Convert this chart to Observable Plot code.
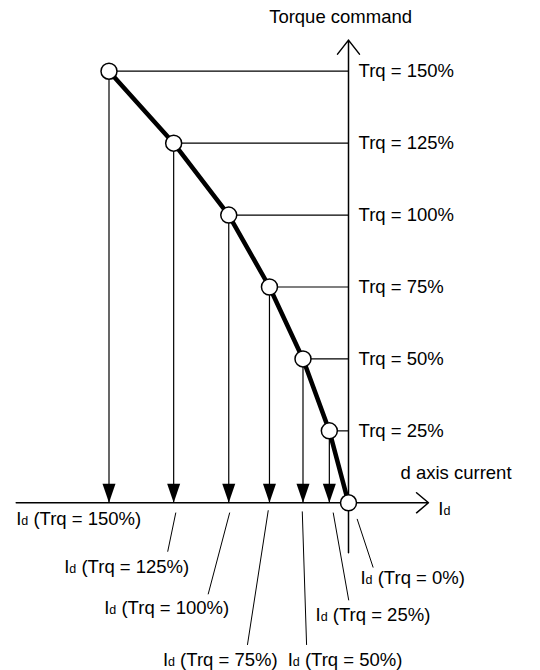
<!DOCTYPE html>
<html>
<head>
<meta charset="utf-8">
<script src="https://cdn.jsdelivr.net/npm/d3@7"></script>
<script src="https://cdn.jsdelivr.net/npm/@observablehq/plot@0.6"></script>
<style>
  html, body { margin: 0; padding: 0; background: white; }
</style>
</head>
<body>
<div id="chart"></div>
<script>
// ---- data ----
const torque = [0, 25, 50, 75, 100, 125, 150];          // torque command, %
const idCurrent = [0, -8, -19, -33, -50, -73, -100];     // d axis current (relative units)
const trqLabels = ["Trq = 0%", "Trq = 25%", "Trq = 50%", "Trq = 75%", "Trq = 100%", "Trq = 125%", "Trq = 150%"];
const idLabels = ["Id (Trq = 0%)", "Id (Trq = 25%)", "Id (Trq = 50%)", "Id (Trq = 75%)", "Id (Trq = 100%)", "Id (Trq = 125%)", "Id (Trq = 150%)"];

// annotation layout in data units (Id, torque)
const idLabelX = [5, -13.75, -25.4, -77.5, -102, -118.7, -138.75];
const idLabelY = [-26.1, -39, -54.6, -54.6, -36.5, -22.3, -5.6];
const leaderX1 = [3.6, -6.4, -19.3, -33.5, -49.6, -72.1, null];
const leaderY1 = [-5.6, -3.4, -3.0, -2.6, -3.4, -3.4, null];
const leaderX2 = [10.3, 0.1, -17.5, -42.2, -58.6, -75.5, null];
const leaderY2 = [-22.5, -33.9, -49.4, -49.4, -31.8, -17.0, null];

const points = torque.map((t, i) => ({
  trq: t, id: idCurrent[i], trqLabel: trqLabels[i], idLabel: idLabels[i],
  lx: idLabelX[i], ly: idLabelY[i],
  x1: leaderX1[i], y1: leaderY1[i], x2: leaderX2[i], y2: leaderY2[i]
}));
const nonZero = points.filter(d => d.trq > 0);
const leaders = points.filter(d => d.x1 != null);

// axis extents (data units)
const xAxisArrow = [{x1: -138.75, x2: 33.4, y1: 0, y2: 0}];
const yAxisArrow = [{x1: 0, x2: 0, y1: -17.4, y2: 160.8}];
const centerTitles = [{text: "Torque command", x: -3.3, y: 168.8}];
const startTitles = [
  {text: "d axis current", x: 21.7, y: 10.4},
  {text: "Id", x: 37.5, y: -2.1}
];

// filled arrowhead, tip at the anchor point, pointing down
const downArrowHead = {
  draw(context) {
    context.moveTo(0, 0);
    context.lineTo(-6.5, -19);
    context.lineTo(6.5, -19);
    context.closePath();
  }
};

const font = "'Liberation Sans', Arial, sans-serif";
const fs = 18.5;

const chart = Plot.plot({
  width: 540,
  height: 670,
  margin: 0,
  style: {fontFamily: font, fontSize: fs + "px", background: "white", color: "black"},
  x: {domain: [-100, 0], range: [108.5, 348], axis: null},
  y: {domain: [0, 150], range: [502.3, 70.7], axis: null},
  marks: [
    // horizontal guide lines from each point to the torque axis
    Plot.ruleY(nonZero, {y: "trq", x1: "id", x2: 0, stroke: "black", strokeWidth: 1.2}),
    // vertical drop lines to the d axis
    Plot.ruleX(nonZero, {x: "id", y1: 0, y2: "trq", stroke: "black", strokeWidth: 1.2}),
    Plot.dot(nonZero, {x: "id", y: 0, symbol: downArrowHead, fill: "black", stroke: null}),
    // axes
    Plot.arrow(xAxisArrow, {x1: "x1", y1: "y1", x2: "x2", y2: "y2", stroke: "black", strokeWidth: 1.5, headAngle: 80, headLength: 15.6}),
    Plot.arrow(yAxisArrow, {x1: "x1", y1: "y1", x2: "x2", y2: "y2", stroke: "black", strokeWidth: 1.5, headAngle: 76, headLength: 17.8}),
    // curve
    Plot.line(points, {x: "id", y: "trq", stroke: "black", strokeWidth: 4.5, curve: "linear", strokeLinejoin: "round"}),
    Plot.dot(points, {x: "id", y: "trq", r: 8, fill: "white", stroke: "black", strokeWidth: 1.5}),
    // leader lines
    Plot.link(leaders, {x1: "x1", y1: "y1", x2: "x2", y2: "y2", stroke: "black", strokeWidth: 1}),
    // labels
    Plot.text(nonZero, {x: 4.2, y: "trq", text: "trqLabel", textAnchor: "start", fontSize: fs, fill: "black"}),
    Plot.text(points, {x: "lx", y: "ly", text: "idLabel", textAnchor: "start", fontSize: fs, fill: "black"}),
    Plot.text(centerTitles, {x: "x", y: "y", text: "text", textAnchor: "middle", fontSize: fs, fill: "black"}),
    Plot.text(startTitles, {x: "x", y: "y", text: "text", textAnchor: "start", fontSize: fs, fill: "black"})
  ]
});

// render the "d" of "Id" as a small letter
chart.querySelectorAll("text").forEach(t => {
  const s = t.textContent;
  if (s.startsWith("Id") && t.children.length === 0) {
    const rest = s.slice(2);
    t.textContent = "";
    const ns = "http://www.w3.org/2000/svg";
    const a = document.createElementNS(ns, "tspan"); a.textContent = "I";
    const b = document.createElementNS(ns, "tspan"); b.textContent = "d"; b.setAttribute("font-size", "12.5");
    t.appendChild(a); t.appendChild(b);
    if (rest) { const c = document.createElementNS(ns, "tspan"); c.textContent = rest; t.appendChild(c); }
  }
});

document.getElementById("chart").appendChild(chart);
</script>
</body>
</html>
